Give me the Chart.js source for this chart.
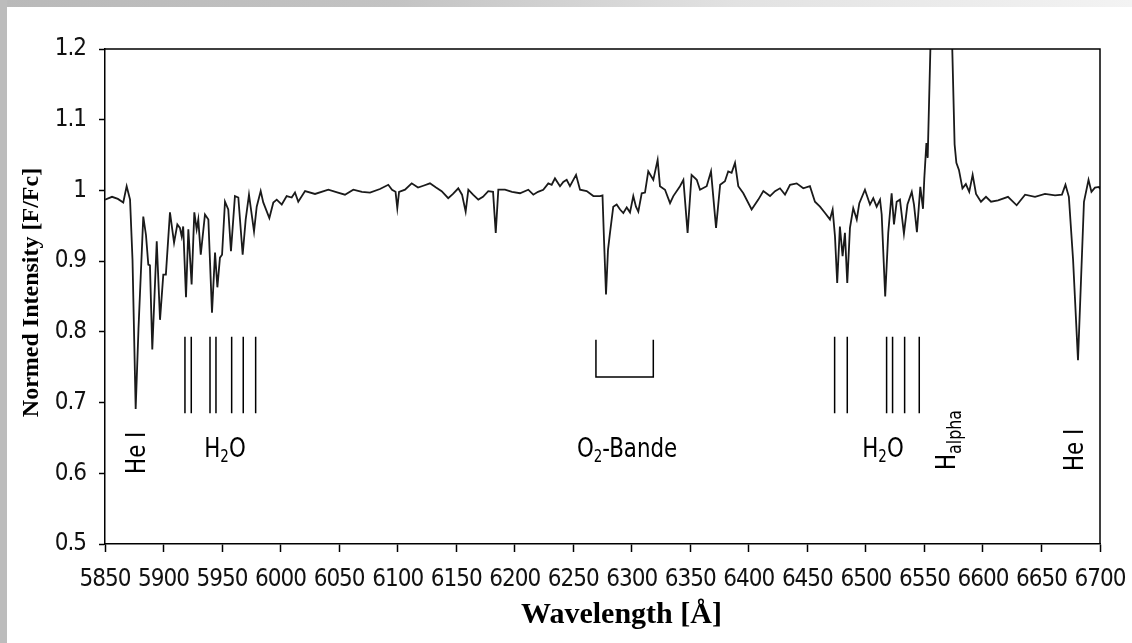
<!DOCTYPE html>
<html><head><meta charset="utf-8">
<script src="https://cdn.jsdelivr.net/npm/chart.js@4.4.1/dist/chart.umd.min.js"></script>
<style>
html,body{margin:0;padding:0;background:#fff;}
#wrap{position:relative;width:1132px;height:643px;overflow:hidden;background:#fff;}
#topband{position:absolute;left:0;top:0;width:1132px;height:7px;background:linear-gradient(to right,#b9b9b9 0%,#c3c3c3 35%,#e2e2e2 65%,#f3f3f3 100%);}
#leftband{position:absolute;left:0;top:0;width:7px;height:643px;background:#bcbcbc;}
canvas{position:absolute;left:0;top:0;}
</style></head><body>
<div id="wrap"><div id="topband"></div><div id="leftband"></div><canvas id="c" width="1132" height="643"></canvas></div>
<script>
// ---- data ----
const wavelength = [
 5850, 5856, 5861, 5865.6, 5868.5, 5871.4, 5873.5, 5876.2, 5878.6, 5882.7,
 5885, 5887, 5888.4, 5890.4, 5894.2, 5897, 5899.8, 5902, 5905.5, 5909,
 5911.8, 5914, 5915.5, 5916.8, 5919.2, 5921.2, 5924, 5926.3, 5928.3, 5929.7,
 5931.8, 5935.4, 5938.3, 5941.4, 5944, 5946, 5948.2, 5950, 5952.5, 5955.3,
 5957.6, 5961, 5963.9, 5967.6, 5970.2, 5973, 5977.3, 5979.6, 5983, 5985.2,
 5990.4, 5993.8, 5996.7, 6001, 6005.2, 6009.5, 6012.3, 6015.1, 6020.9, 6029.4,
 6040.8, 6049, 6055, 6062.1, 6069.5, 6076.4, 6084.9, 6092, 6095.2, 6098.2,
 6099.7, 6101.2, 6106.3, 6112, 6117.4, 6122.5, 6127.6, 6132.8, 6137.6, 6143.2,
 6147.3, 6151.8, 6155, 6158.1, 6160.4, 6164.4, 6168.9, 6172.9, 6177.4, 6181.5,
 6183.8, 6186, 6191.7, 6197.7, 6204.5, 6211.6, 6215.9, 6219.9, 6224.4, 6228.7,
 6231.6, 6234.4, 6238.7, 6241.5, 6244.4, 6247.2, 6252.4, 6255.8, 6261.5, 6267.2,
 6272.9, 6275, 6276.3, 6278, 6279.7, 6281.4, 6284.2, 6287.1, 6290, 6292.8,
 6295.7, 6298.5, 6301.3, 6303.6, 6305.6, 6308.5, 6311.3, 6314.1, 6318.4, 6322.1,
 6324.1, 6328.4, 6332.7, 6335.5, 6341.2, 6344.1, 6347.7, 6351.1, 6355.5, 6358.3,
 6364, 6367.7, 6372, 6375.5, 6379.6, 6382.4, 6385.3, 6388.2, 6391, 6395.3,
 6402.4, 6408.1, 6412.4, 6418.1, 6422.4, 6426.6, 6430.9, 6435.2, 6440.9, 6446.5,
 6452.2, 6456.5, 6460.8, 6465.1, 6469.3, 6471.6, 6473.6, 6475.5, 6477.8, 6480.1,
 6482.1, 6484.1, 6486.4, 6489.2, 6492.2, 6494.4, 6499.2, 6503.5, 6506.3, 6509.2,
 6512.1, 6513.5, 6516.5, 6519.1, 6522, 6524, 6526.3, 6529.1, 6532.5, 6535.5,
 6539.2, 6541.1, 6543.6, 6546.5, 6548.8, 6549.9, 6551.7, 6552.8, 6555.1, 6557,
 6563, 6570, 6573.8, 6575.8, 6577.3, 6579.5, 6582.5, 6585.4, 6588.3, 6591.2,
 6594.1, 6598.3, 6602.6, 6606.9, 6612.9, 6621.4, 6628.8, 6636, 6644.5, 6653,
 6661.6, 6667.5, 6670.5, 6673.4, 6677, 6681.2, 6683.8, 6686.3, 6690.2, 6692.7,
 6695.7, 6699.1, 6700
];
const intensity = [
 0.987, 0.991, 0.988, 0.983, 1.006, 0.987, 0.902, 0.691, 0.804, 0.963,
 0.937, 0.895, 0.894, 0.775, 0.928, 0.817, 0.881, 0.881, 0.969, 0.926,
 0.952, 0.947, 0.935, 0.949, 0.849, 0.945, 0.867, 0.969, 0.945, 0.959,
 0.909, 0.966, 0.959, 0.827, 0.912, 0.863, 0.905, 0.909, 0.984, 0.973,
 0.914, 0.992, 0.990, 0.909, 0.959, 0.994, 0.942, 0.977, 0.999, 0.983,
 0.961, 0.983, 0.987, 0.980, 0.992, 0.990, 0.997, 0.984, 0.999, 0.995,
 1.001, 0.997, 0.994, 1.001, 0.998, 0.997, 1.002, 1.008, 1.001, 0.998,
 0.975, 0.998, 1.001, 1.010, 1.004, 1.007, 1.010, 1.004, 0.999, 0.989,
 0.995, 1.003, 0.994, 0.970, 1.001, 0.994, 0.987, 0.991, 0.999, 0.998,
 0.940, 1.001, 1.001, 0.998, 0.996, 1.001, 0.994, 0.998, 1.001, 1.010,
 1.008, 1.017, 1.006, 1.012, 1.015, 1.006, 1.022, 1.001, 0.999, 0.992,
 0.992, 0.993, 0.930, 0.853, 0.916, 0.940, 0.977, 0.980, 0.973, 0.968,
 0.976, 0.969, 0.992, 0.977, 0.970, 0.996, 0.997, 1.027, 1.015, 1.043,
 1.006, 1.001, 0.982, 0.992, 1.006, 1.015, 0.940, 1.022, 1.015, 1.001,
 1.006, 1.027, 0.947, 1.008, 1.013, 1.027, 1.025, 1.039, 1.006, 0.996,
 0.973, 0.987, 0.999, 0.992, 0.999, 1.003, 0.994, 1.008, 1.010, 1.003,
 1.006, 0.984, 0.977, 0.968, 0.959, 0.973, 0.935, 0.869, 0.949, 0.907,
 0.940, 0.869, 0.947, 0.975, 0.959, 0.982, 1.001, 0.980, 0.989, 0.977,
 0.987, 0.966, 0.850, 0.940, 0.996, 0.952, 0.984, 0.987, 0.939, 0.980,
 0.998, 0.980, 0.941, 1.005, 0.974, 1.017, 1.067, 1.046, 1.200, 1.450,
 1.600, 1.450, 1.200, 1.065, 1.039, 1.029, 1.003, 1.009, 0.998, 1.022,
 0.995, 0.984, 0.991, 0.984, 0.986, 0.991, 0.979, 0.994, 0.991, 0.995,
 0.993, 0.994, 1.008, 0.991, 0.902, 0.760, 0.874, 0.984, 1.015, 0.998,
 1.004, 1.005, 1.002
];
const xTicks = [5850,5900,5950,6000,6050,6100,6150,6200,6250,6300,6350,6400,6450,6500,6550,6600,6650,6700];
const yTicks = [0.5,0.6,0.7,0.8,0.9,1.0,1.1,1.2];
const yTickLabels = ['0.5','0.6','0.7','0.8','0.9','1','1.1','1.2'];

// H2O marker lines (wavelengths) and their span in intensity
const h2oLines = [5918.3, 5923.7, 5939.7, 5944.8, 5958.2, 5968.1, 5978.7, 6473.3, 6484.1, 6517.7, 6522.8, 6533.1, 6545.6];
const h2oTop = 0.793;
const h2oBottom = 0.685;
// O2 band bracket
const o2Start = 6269.4, o2End = 6318.4, o2Top = 0.789, o2Bottom = 0.736;

// annotation labels
const labelWavelength = [5876, 5952.5, 6296, 6514.6, 6568, 6677.3];
const labelIntensity  = [0.629, 0.637, 0.637, 0.637, 0.647, 0.633];
const labelRotated    = [true, false, false, false, true, true];
const labelParts = [
  [['He I', 0]],
  [['H', 0], ['2', 1], ['O', 0]],
  [['O', 0], ['2', 1], ['-Bande', 0]],
  [['H', 0], ['2', 1], ['O', 0]],
  [['H', 0], ['alpha', 2]],
  [['He I', 0]]
];
const xTitle = 'Wavelength [\u00C5]';
const yTitle = 'Normed Intensity [F/Fc]';

// ---- build datasets ----
const spectrum = wavelength.map((x, i) => ({x: x, y: intensity[i]}));
const h2oData = [];
h2oLines.forEach(w => { h2oData.push({x: w, y: h2oTop}, {x: w, y: h2oBottom}, {x: w, y: null}); });
const o2Data = [{x: o2Start, y: o2Top}, {x: o2Start, y: o2Bottom}, {x: o2End, y: o2Bottom}, {x: o2End, y: o2Top}];

const SANS = '"Liberation Sans Narrow","DejaVu Sans Condensed","Arial Narrow",sans-serif';
const SERIF = '"Liberation Serif","DejaVu Serif",serif';

function drawParts(ctx, parts, cx, cy, rotated) {
  const sizes = [27, 17, 20];
  const dys = [0, 5, 6];
  const squeeze = 0.88;
  const capH = 27 * 0.73;
  ctx.save();
  ctx.letterSpacing = '0px';
  ctx.translate(cx, cy);
  if (rotated) ctx.rotate(-Math.PI / 2);
  ctx.scale(squeeze, 1);
  let w = 0;
  const ws = parts.map(p => { ctx.font = sizes[p[1]] + 'px ' + SANS; const m = ctx.measureText(p[0]).width; w += m; return m; });
  let x = -w / 2;
  ctx.textBaseline = 'alphabetic';
  ctx.textAlign = 'left';
  ctx.fillStyle = '#000';
  parts.forEach((p, i) => {
    ctx.font = sizes[p[1]] + 'px ' + SANS;
    ctx.fillText(p[0], x, capH / 2 + dys[p[1]]);
    x += ws[i];
  });
  ctx.restore();
}

const decorPlugin = {
  id: 'decor',
  beforeDraw(chart) {
    try { chart.ctx.letterSpacing = '-1px'; } catch (e) {}
  },
  afterDraw(chart) {
    const ctx = chart.ctx;
    const a = chart.chartArea;
    const xs = chart.scales.x, ys = chart.scales.y;
    ctx.save();
    ctx.letterSpacing = '0px';
    // frame (top & right)
    ctx.strokeStyle = '#000';
    ctx.lineWidth = 1.5;
    ctx.beginPath();
    ctx.moveTo(a.left, a.top); ctx.lineTo(a.right, a.top); ctx.lineTo(a.right, a.bottom);
    ctx.stroke();
    // annotation labels
    labelParts.forEach((parts, i) => {
      drawParts(ctx, parts, xs.getPixelForValue(labelWavelength[i]), ys.getPixelForValue(labelIntensity[i]), labelRotated[i]);
    });
    // axis titles
    ctx.fillStyle = '#000';
    ctx.font = 'bold 30px ' + SERIF;
    ctx.textAlign = 'center';
    ctx.textBaseline = 'alphabetic';
    ctx.fillText(xTitle, (a.left + a.right) / 2 + 19, 623);
    ctx.save();
    ctx.translate(38, (a.top + a.bottom) / 2 - 4);
    ctx.rotate(-Math.PI / 2);
    ctx.font = 'bold 24px ' + SERIF;
    ctx.fillText(yTitle, 0, 0);
    ctx.restore();
    ctx.restore();
  }
};

new Chart(document.getElementById('c'), {
  type: 'line',
  data: {
    datasets: [
      {data: spectrum, borderColor: '#1a1a1a', borderWidth: 1.8, pointRadius: 0, tension: 0, fill: false},
      {data: h2oData, borderColor: '#000', borderWidth: 1.5, pointRadius: 0, spanGaps: false, fill: false},
      {data: o2Data, borderColor: '#000', borderWidth: 1.5, pointRadius: 0, fill: false}
    ]
  },
  options: {
    responsive: false,
    animation: false,
    devicePixelRatio: 1,
    layout: {padding: {left: 0, right: 32, top: 49, bottom: 0}},
    plugins: {legend: {display: false}, tooltip: {enabled: false}},
    scales: {
      x: {
        type: 'linear', min: 5850, max: 6700,
        afterFit(s) { s.height = 99; s.paddingLeft = 0; s.paddingRight = 0; },
        afterBuildTicks(s) { s.ticks = xTicks.map(v => ({value: v})); },
        grid: {drawOnChartArea: false, tickLength: 8, tickColor: '#000', tickWidth: 1.5},
        border: {color: '#000', width: 1.5},
        ticks: {font: {family: SANS, size: 24}, color: '#111', padding: 13, maxRotation: 0, autoSkip: false,
                callback: (v, i) => String(xTicks[i])}
      },
      y: {
        type: 'linear', min: 0.5, max: 1.2,
        afterFit(s) { s.width = 105; s.paddingTop = 0; s.paddingBottom = 0; },
        afterBuildTicks(s) { s.ticks = yTicks.map(v => ({value: v})); },
        grid: {drawOnChartArea: false, tickLength: 6, tickColor: '#000', tickWidth: 1.5},
        border: {color: '#000', width: 1.5},
        ticks: {font: {family: SANS, size: 24}, color: '#111', padding: 13,
                callback: (v, i) => yTickLabels[i]}
      }
    }
  },
  plugins: [decorPlugin]
});
</script></body></html>
